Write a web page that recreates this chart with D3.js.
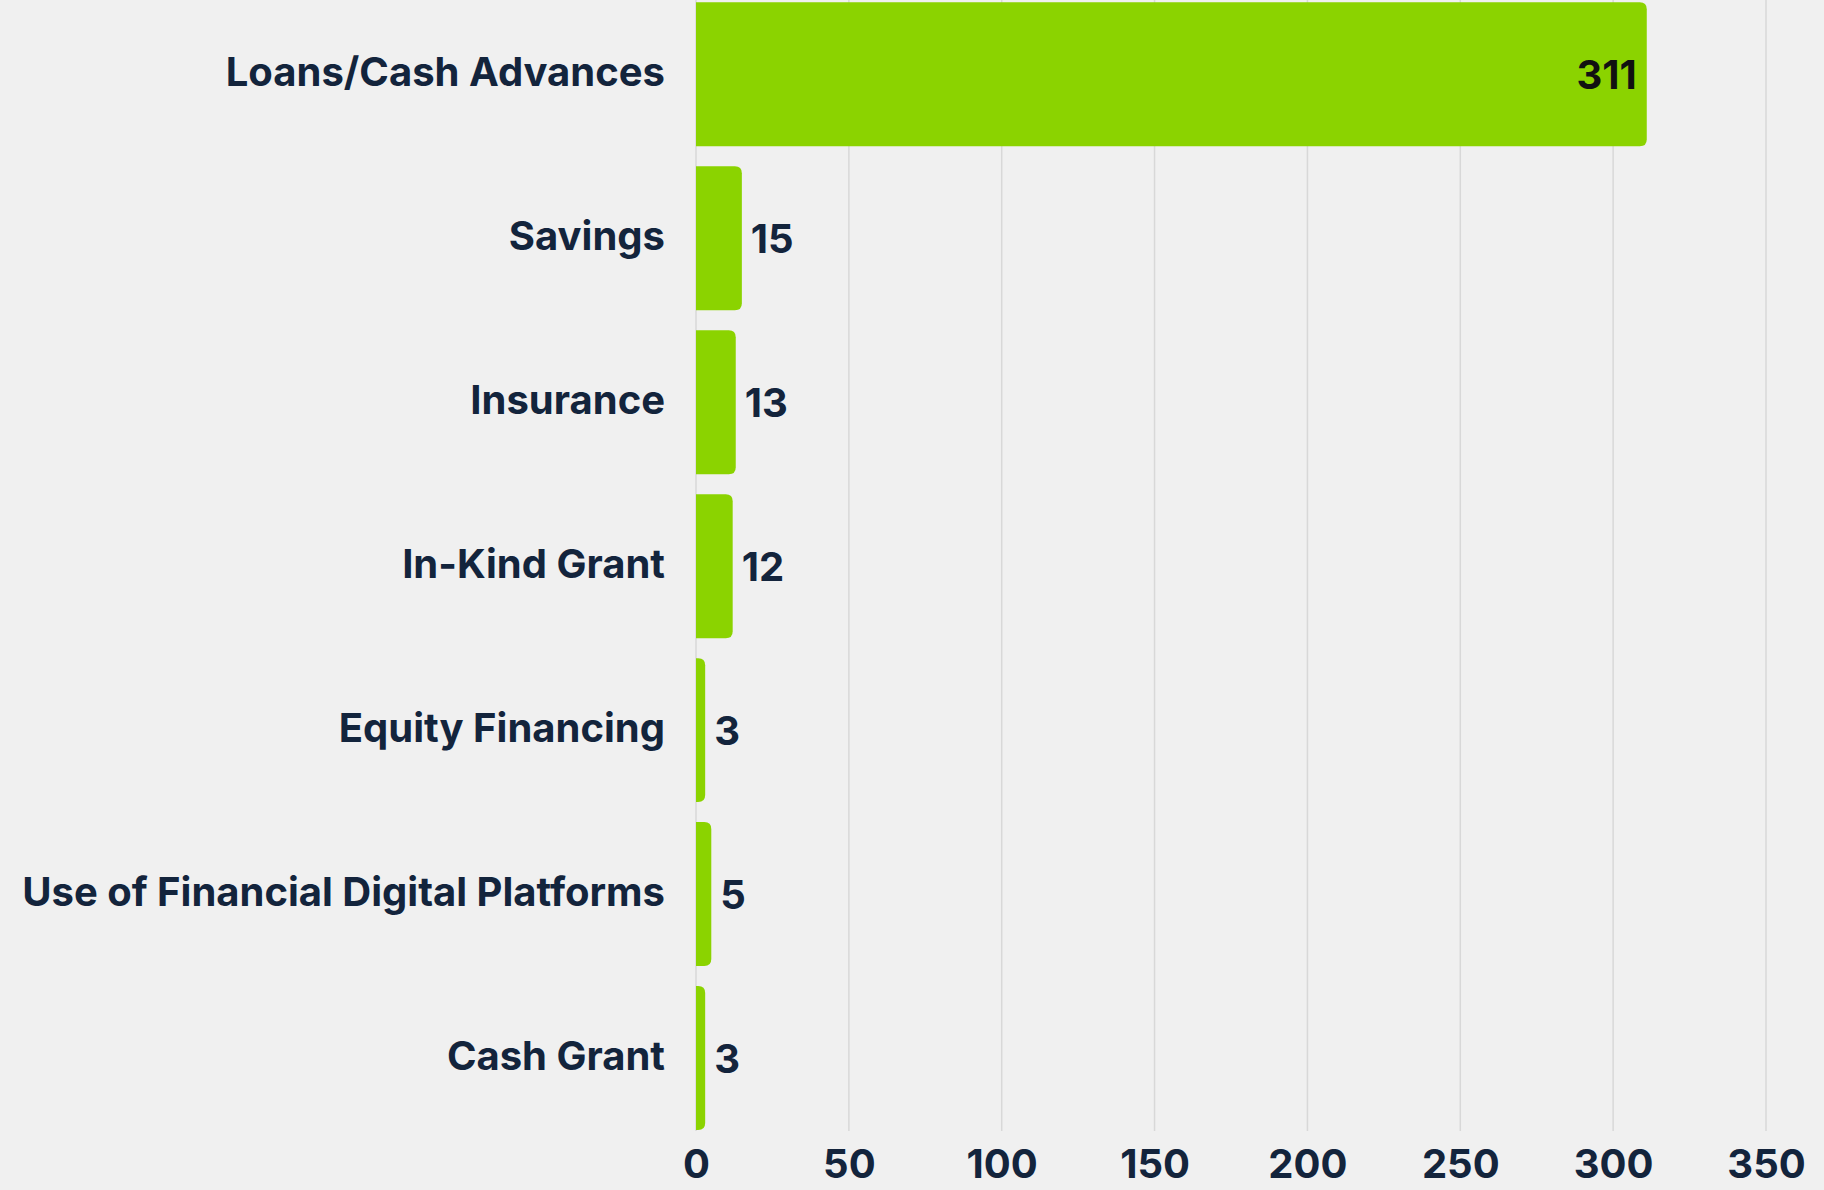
<!DOCTYPE html>
<html>
<head>
<meta charset="utf-8">
<script src="https://cdn.jsdelivr.net/npm/d3@7"></script>
<style>
  html, body { margin: 0; padding: 0; background: #f0f0f0; }
  svg { display: block; }
  text { font-family: Inter, "Noto Sans", sans-serif; }
</style>
</head>
<body>
<svg id="chart" width="1824" height="1190"></svg>
<script>
// Funding sources and number of responses
const categories = [
  "Loans/Cash Advances",
  "Savings",
  "Insurance",
  "In-Kind Grant",
  "Equity Financing",
  "Use of Financial Digital Platforms",
  "Cash Grant"
];
const values = [311, 15, 13, 12, 3, 5, 3];
const tickValues = [0, 50, 100, 150, 200, 250, 300, 350];

const W = 1824, H = 1190;
const margin = { left: 696, right: 58, top: 0, bottom: 59 };
const fontSize = 40;

const svg = d3.select("#chart");

const x = d3.scaleLinear()
  .domain([0, 350])
  .range([margin.left, W - margin.right]);

const y = d3.scaleBand()
  .domain(categories)
  .range([-7.7, 1140])
  .paddingInner(0.122)
  .paddingOuter(0.061);

const gridBottom = 1131;

// vertical gridlines
svg.append("g")
  .selectAll("line")
  .data(tickValues)
  .join("line")
  .attr("x1", d => x(d)).attr("x2", d => x(d))
  .attr("y1", 0).attr("y2", gridBottom)
  .attr("stroke", "#d8d8d8")
  .attr("stroke-width", 1.5);

// bars with rounded right ends
function barPath(x0, x1, y0, h, r) {
  const w = x1 - x0;
  r = Math.min(r, w, h / 2);
  return `M${x0},${y0}H${x1 - r}Q${x1},${y0} ${x1},${y0 + r}` +
         `V${y0 + h - r}Q${x1},${y0 + h} ${x1 - r},${y0 + h}H${x0}Z`;
}

svg.append("g")
  .selectAll("path")
  .data(categories)
  .join("path")
  .attr("d", (d, i) => barPath(x(0), x(values[i]), y(d), y.bandwidth(), 7))
  .attr("fill", "#8bd300");

// category labels
svg.append("g")
  .selectAll("text")
  .data(categories)
  .join("text")
  .attr("x", x(0) - 31)
  .attr("y", d => y(d) + y.bandwidth() / 2 - 2)
  .attr("dy", "0.35em")
  .attr("text-anchor", "end")
  .attr("font-size", fontSize)
  .attr("font-weight", 700)
  .attr("fill", "#13243c")
  .text(d => d);

// value labels: inside the long bar, outside the short ones
svg.append("g")
  .selectAll("text")
  .data(categories)
  .join("text")
  .each(function (d, i) {
    const v = values[i];
    const inside = x(v) - x(0) > 200;
    d3.select(this)
      .attr("x", inside ? x(v) - 10 : x(v) + 9)
      .attr("text-anchor", inside ? "end" : "start")
      .attr("fill", inside ? "#111111" : "#13243c");
  })
  .attr("y", d => y(d) + y.bandwidth() / 2 + 1)
  .attr("dy", "0.35em")
  .attr("font-size", fontSize)
  .attr("font-weight", 700)
  .text((d, i) => values[i]);

// x axis tick labels
const xAxis = d3.axisBottom(x)
  .tickValues(tickValues)
  .tickSize(0)
  .tickPadding(0)
  .tickFormat(d3.format("d"));

const gx = svg.append("g")
  .attr("transform", `translate(0, ${gridBottom + 19})`)
  .call(xAxis);
gx.select(".domain").remove();
gx.selectAll("text")
  .attr("font-family", "Inter, 'Noto Sans', sans-serif")
  .attr("font-size", fontSize)
  .attr("font-weight", 700)
  .attr("fill", "#13243c");
</script>
</body>
</html>
